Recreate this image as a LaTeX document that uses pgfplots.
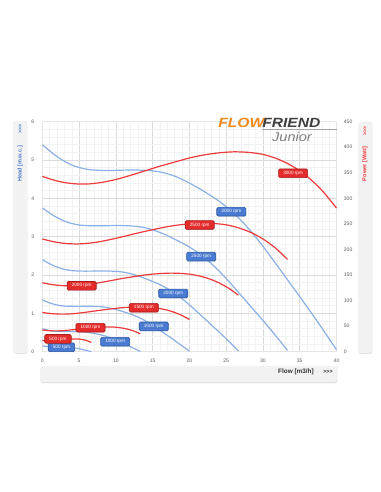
\documentclass[border=0pt]{standalone}
\usepackage{fontspec}
\setmainfont{Liberation Sans}
\usepackage{pgfplots}
\pgfplotsset{compat=1.18}
\usetikzlibrary{shadows}
\definecolor{bl}{HTML}{8AB0E6}
\definecolor{rd}{HTML}{EC3B3B}
\definecolor{blfill}{HTML}{4A7BD0}
\definecolor{bldraw}{HTML}{2A5AA8}
\definecolor{rdfill}{HTML}{E42C2C}
\definecolor{rddraw}{HTML}{A81C1C}
\definecolor{orng}{HTML}{F08A1C}
\definecolor{panel}{HTML}{F2F2F2}
\tikzset{
  lab/.style={rounded corners=1pt, inner xsep=3.5pt, inner ysep=1.3pt, minimum height=6.5pt,
    text=white, font=\fontsize{3.5}{3.5}\selectfont, line width=0.5pt,
    drop shadow={opacity=0.25, shadow xshift=0.3pt, shadow yshift=-0.4pt}},
  bllab/.style={lab, fill=blfill, draw=bldraw},
  rdlab/.style={lab, fill=rdfill, draw=rddraw},
}
\begin{document}
\begin{tikzpicture}
\path[use as bounding box] (0,0) rectangle (285.75pt,369pt);
% side panels
\fill[black!12, rounded corners=2pt] (10.1pt,103.6pt) rectangle (20.6pt,278.2pt);
\fill[panel, rounded corners=2pt] (9.75pt,104.25pt) rectangle (20.25pt,278.25pt);
\node[rotate=90, text=blfill, font=\fontsize{4}{4}\selectfont\bfseries] at (15.2pt,272pt) {>{}>{}>};
\node[rotate=90, text=blfill, font=\fontsize{4.2}{4.2}\selectfont\bfseries] at (15.2pt,246pt) {Head [m.w.c.]};
\fill[black!12, rounded corners=2pt] (268.85pt,103.6pt) rectangle (279.35pt,277.5pt);
\fill[panel, rounded corners=2pt] (268.5pt,104.25pt) rectangle (279pt,277.5pt);
\node[rotate=90, text=rd, font=\fontsize{4}{4}\selectfont\bfseries] at (273.75pt,271pt) {>{}>{}>};
\node[rotate=90, text=rd, font=\fontsize{4.2}{4.2}\selectfont\bfseries] at (273.75pt,246pt) {Power [Watt]};
% bottom panel
\fill[black!12, rounded corners=2pt] (30.3pt,81.6pt) rectangle (253.1pt,94.2pt);
\fill[panel, rounded corners=2pt] (30pt,82.5pt) rectangle (252.75pt,94.5pt);
\node[text=black!80, font=\fontsize{4.8}{4.8}\selectfont\bfseries] at (222pt,90.3pt) {Flow [m3/h]};
\node[text=black!80, font=\fontsize{4}{4}\selectfont\bfseries] at (246pt,90.3pt) {>{}>{}>};

\begin{axis}[
  at={(31.73pt,105.23pt)}, anchor=south west,
  scale only axis, width=220.65pt, height=172.5pt,
  xmin=0, xmax=40, ymin=0, ymax=6,
  xtick={0,5,...,40}, ytick={0,1,...,6},
  minor x tick num=4, minor y tick num=4,
  grid=both,
  major grid style={draw=black!14, line width=0.5pt},
  minor grid style={draw=black!5, line width=0.3pt},
  axis line style={draw=black!10},
  tick style={draw=none},
  /pgf/number format/assume math mode=true,
  ticklabel style={font=\fontsize{3.8}{3.8}\selectfont, text=black!65},
  yticklabel style={xshift=-2.5pt},
  xticklabel style={yshift=-1.8pt},
  every axis plot/.append style={line width=0.9pt, smooth, no markers},
]
\addplot[bl] coordinates {(0,5.40)(2,5.09)(4,4.87)(6,4.76)(8,4.73)(10,4.73)(12,4.74)(14,4.73)(16,4.69)(18,4.58)(20,4.40)(22,4.18)(24,3.93)(26,3.62)(28,3.22)(30,2.75)(32,2.23)(34,1.70)(36,1.17)(38,0.62)(40,0.05)};
\addplot[bl] coordinates {(0,3.750)(1.667,3.535)(3.333,3.382)(5,3.306)(6.667,3.285)(8.333,3.285)(10,3.292)(11.667,3.285)(13.333,3.257)(15,3.181)(16.667,3.056)(18.333,2.903)(20,2.729)(21.667,2.514)(23.333,2.236)(25,1.910)(26.667,1.549)(28.333,1.181)(30,0.813)(31.667,0.431)(33.333,0.035)};
\addplot[bl] coordinates {(0,2.400)(1.333,2.262)(2.667,2.164)(4,2.116)(5.333,2.102)(6.667,2.102)(8,2.107)(9.333,2.102)(10.667,2.084)(12,2.036)(13.333,1.956)(14.667,1.858)(16,1.747)(17.333,1.609)(18.667,1.431)(20,1.222)(21.333,0.991)(22.667,0.756)(24,0.520)(25.333,0.276)(26.667,0.022)};
\addplot[bl] coordinates {(0,1.350)(1,1.273)(2,1.218)(3,1.190)(4,1.183)(5,1.183)(6,1.185)(7,1.183)(8,1.173)(9,1.145)(10,1.100)(11,1.045)(12,0.983)(13,0.905)(14,0.805)(15,0.688)(16,0.558)(17,0.425)(18,0.293)(19,0.155)(20,0.013)};
\addplot[bl] coordinates {(0,0.600)(0.667,0.566)(1.333,0.541)(2,0.529)(2.667,0.526)(3.333,0.526)(4,0.527)(4.667,0.526)(5.333,0.521)(6,0.509)(6.667,0.489)(7.333,0.464)(8,0.437)(8.667,0.402)(9.333,0.358)(10,0.306)(10.667,0.248)(11.333,0.189)(12,0.130)(12.667,0.069)(13.333,0.006)};
\addplot[bl] coordinates {(0,0.150)(0.333,0.141)(0.667,0.135)(1,0.132)(1.333,0.131)(1.667,0.131)(2,0.132)(2.333,0.131)(2.667,0.130)(3,0.127)(3.333,0.122)(3.667,0.116)(4,0.109)(4.333,0.101)(4.667,0.089)(5,0.076)(5.333,0.062)(5.667,0.047)(6,0.033)(6.333,0.017)(6.667,0.001)};
\end{axis}

\begin{axis}[
  at={(31.73pt,105.23pt)}, anchor=south west,
  scale only axis, width=220.65pt, height=172.5pt,
  xmin=0, xmax=40, ymin=0, ymax=450,
  axis x line=none, axis y line*=right,
  y axis line style={draw=none},
  ytick={0,50,...,450},
  tick style={draw=none},
  /pgf/number format/assume math mode=true,
  ticklabel style={font=\fontsize{3.8}{3.8}\selectfont, text=black!65},
  yticklabel style={xshift=2pt},
  every axis plot/.append style={line width=0.9pt, smooth, no markers},
  clip=false,
]
\addplot[rd] coordinates {(0,343)(2,334)(4,329)(6,328)(8,331)(10,337)(12,345)(14,354)(16,363)(18,371)(20,379)(22,385)(24,389)(26,391)(28,390)(30,386)(32,377)(34,363)(36,343)(38,316)(40,281)};
\addplot[rd] coordinates {(0,220.5)(1.667,214.8)(3.333,211.5)(5,210.9)(6.667,212.8)(8.333,216.7)(10,221.8)(11.667,227.6)(13.333,233.4)(15,238.6)(16.667,243.7)(18.333,247.6)(20,250.1)(21.667,251.4)(23.333,250.8)(25,248.2)(26.667,242.4)(28.333,233.4)(30,220.5)(31.667,203.2)(33.333,180.7)};
\addplot[rd] coordinates {(0,134.8)(1.333,131.3)(2.667,129.3)(4,128.9)(5.333,130.1)(6.667,132.4)(8,135.6)(9.333,139.1)(10.667,142.7)(12,145.8)(13.333,148.9)(14.667,151.3)(16,152.9)(17.333,153.7)(18.667,153.3)(20,151.7)(21.333,148.2)(22.667,142.7)(24,134.8)(25.333,124.2)(26.667,110.4)};
\addplot[rd] coordinates {(0,76.8)(1,74.8)(2,73.7)(3,73.5)(4,74.1)(5,75.5)(6,77.3)(7,79.3)(8,81.3)(9,83.1)(10,84.9)(11,86.2)(12,87.1)(13,87.6)(14,87.4)(15,86.5)(16,84.4)(17,81.3)(18,76.8)(19,70.8)(20,62.9)};
\addplot[rd] coordinates {(0,42.5)(0.667,41.4)(1.333,40.8)(2,40.7)(2.667,41.0)(3.333,41.8)(4,42.8)(4.667,43.9)(5.333,45.0)(6,46.0)(6.667,47.0)(7.333,47.7)(8,48.2)(8.667,48.5)(9.333,48.4)(10,47.9)(10.667,46.7)(11.333,45.0)(12,42.5)(12.667,39.2)(13.333,34.8)};
\addplot[rd] coordinates {(0,22.0)(0.333,21.4)(0.667,21.1)(1,21.0)(1.333,21.2)(1.667,21.6)(2,22.1)(2.333,22.7)(2.667,23.2)(3,23.7)(3.333,24.3)(3.667,24.6)(4,24.9)(4.333,25.0)(4.667,25.0)(5,24.7)(5.333,24.1)(5.667,23.2)(6,22.0)(6.333,20.2)(6.667,18.0)};
% labels
\node[bllab] at (axis cs:25.7,273.8) {3000 rpm};
\node[bllab] at (axis cs:21.6,186) {2500 rpm};
\node[bllab] at (axis cs:17.8,114) {2000 rpm};
\node[bllab] at (axis cs:15.15,49.5) {1500 rpm};
\node[bllab] at (axis cs:9.9,19.5) {1000 rpm};
\node[bllab] at (axis cs:2.6,8.6) {500 rpm};
\node[rdlab] at (axis cs:34.1,349) {3000 rpm};
\node[rdlab] at (axis cs:21.4,248) {2500 rpm};
\node[rdlab] at (axis cs:5.35,129) {2000 rpm};
\node[rdlab] at (axis cs:13.8,86) {1500 rpm};
\node[rdlab] at (axis cs:6.55,47) {1000 rpm};
\node[rdlab] at (axis cs:2.13,25) {500 rpm};
\end{axis}

% logo
\node[anchor=west, inner sep=0pt, xscale=1.17, text=orng, font=\fontsize{10}{10}\selectfont\bfseries\itshape] at (163.5pt,276.8pt) {FLOW};
\node[anchor=west, inner sep=0pt, xscale=1.17, text=black!75, font=\fontsize{10}{10}\selectfont\bfseries\itshape] at (196.5pt,276.8pt) {FRIEND};
\draw[black!35, line width=0.4pt] (196.5pt,272.2pt) -- (252.7pt,272.2pt);
\node[text=black!50, inner sep=0pt, xscale=1.15, font=\fontsize{9.5}{9.5}\selectfont\itshape] at (219pt,266.3pt) {Junior};
\end{tikzpicture}
\end{document}
